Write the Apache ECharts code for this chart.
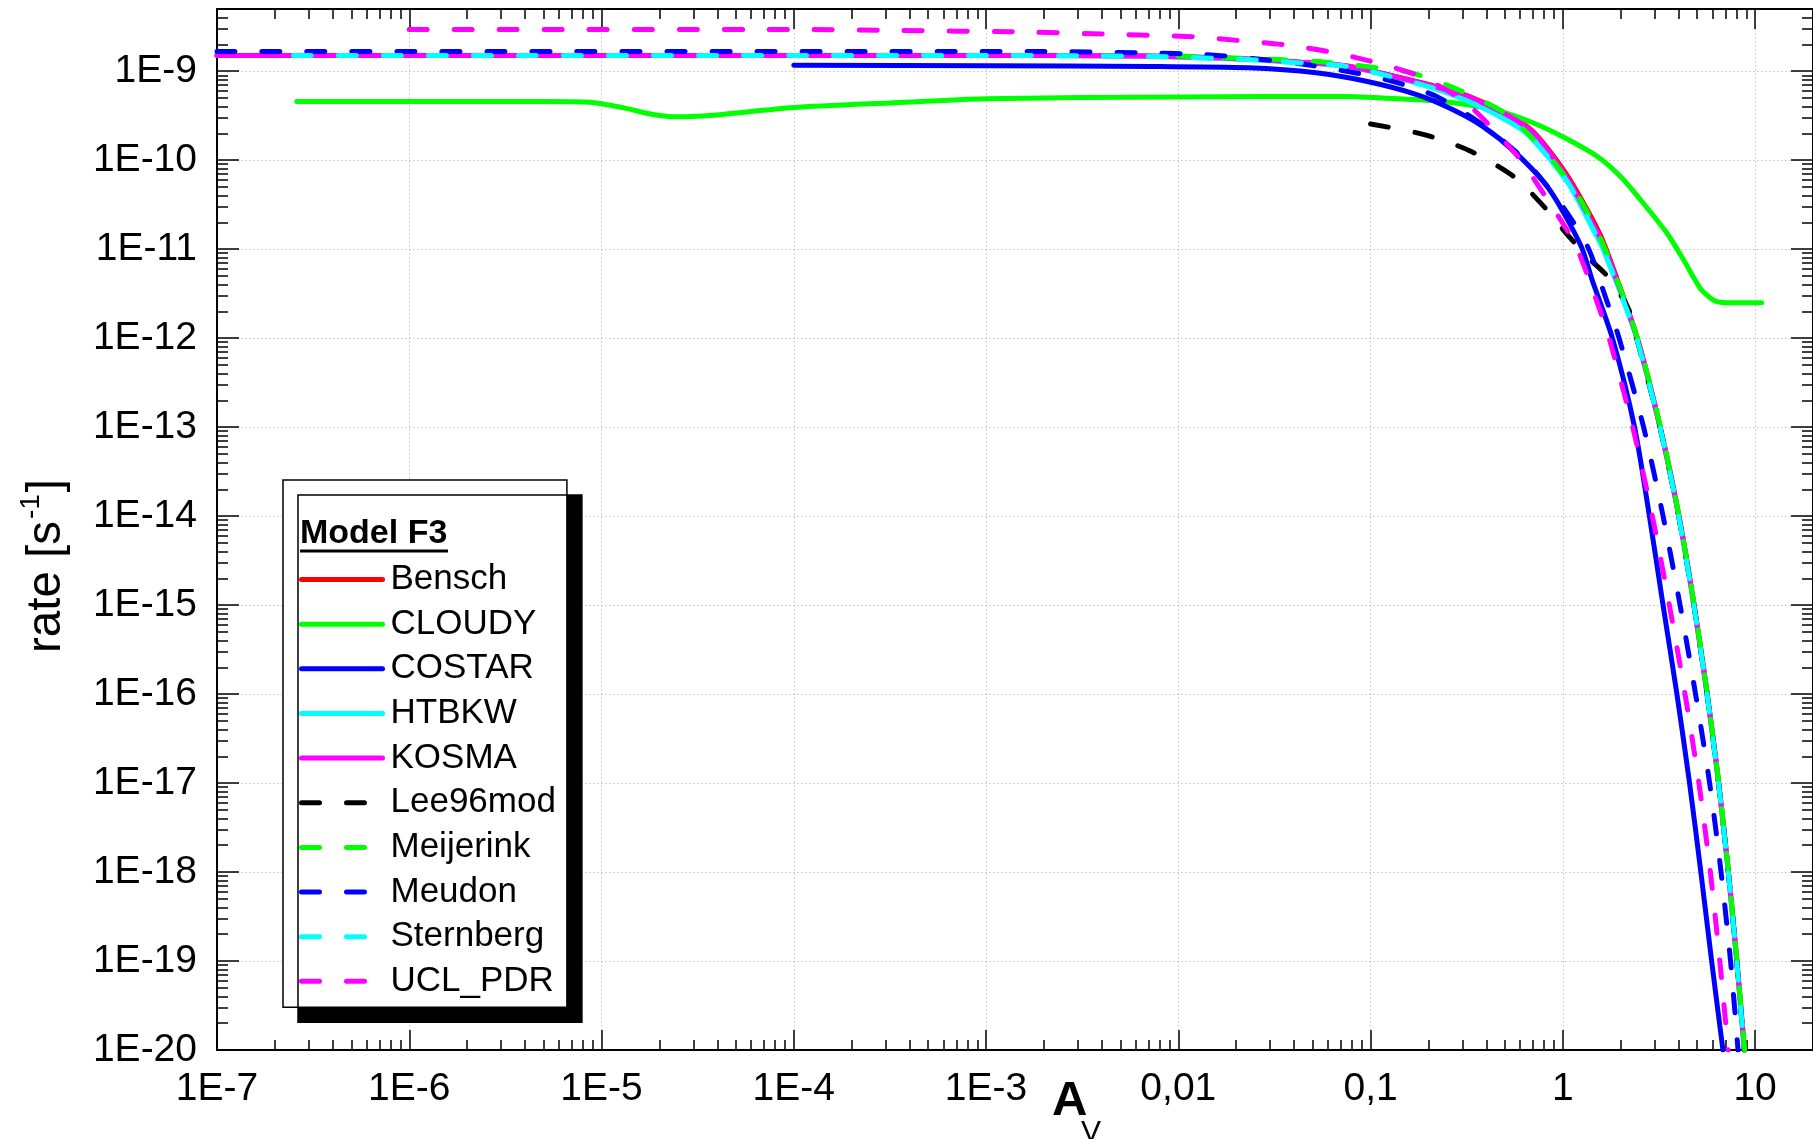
<!DOCTYPE html>
<html><head><meta charset="utf-8">
<script src="https://cdn.jsdelivr.net/npm/echarts@6/dist/echarts.min.js"></script>
<style>html,body{margin:0;padding:0;background:#fff}#c{width:1813px;height:1139px}</style>
</head><body><div id="c"></div>
<script>
const FONT = '"Liberation Sans", Arial, Helvetica, sans-serif';

// ---- tick labels ----
const xTickValues = [1e-7, 1e-6, 1e-5, 1e-4, 1e-3, 1e-2, 1e-1, 1, 10];
const xTickLabels = ['1E-7', '1E-6', '1E-5', '1E-4', '1E-3', '0,01', '0,1', '1', '10'];
const yTickValues = [1e-20, 1e-19, 1e-18, 1e-17, 1e-16, 1e-15, 1e-14, 1e-13, 1e-12, 1e-11, 1e-10, 1e-9];
const yTickLabels = ['1E-20', '1E-19', '1E-18', '1E-17', '1E-16', '1E-15', '1E-14', '1E-13', '1E-12', '1E-11', '1E-10', '1E-9'];

// ---- series (A_V, rate) ----
const seriesNames = ['Bensch', 'CLOUDY', 'COSTAR', 'HTBKW', 'KOSMA', 'Lee96mod', 'Meijerink', 'Meudon', 'Sternberg', 'UCL_PDR'];

const Bensch_av   = [1e-7, 1e-3, 0.007, 0.023, 0.043, 0.074, 0.125, 0.21, 0.327, 0.5, 0.7, 1.04, 1.49, 1.68, 2.44, 3.21, 4.02, 4.82, 5.64, 6.47, 7.27, 8.04, 8.8];
const Bensch_rate = [1.5e-9, 1.5e-9, 1.48e-9, 1.37e-9, 1.26e-9, 1.15e-9, 9.1e-10, 6.9e-10, 5.2e-10, 3.4e-10, 2.1e-10, 7.0e-11, 1.8e-11, 1e-11, 1e-12, 1e-13, 1e-14, 1e-15, 1e-16, 1e-17, 1e-18, 1e-19, 1e-20];

const CLOUDY_av   = [2.6e-7, 5e-6, 8.7e-6, 1.29e-5, 1.86e-5, 2.47e-5, 3.13e-5, 4e-5, 1e-4, 3.2e-4, 1e-3, 0.01, 0.074, 0.115, 0.21, 0.314, 0.468, 0.698, 1.04, 1.55, 2.0, 2.53, 3.49, 4.26, 5.2, 6.08, 7.16, 10.8];
const CLOUDY_rate = [4.56e-10, 4.56e-10, 4.48e-10, 3.9e-10, 3.26e-10, 3.07e-10, 3.12e-10, 3.22e-10, 3.9e-10, 4.4e-10, 4.89e-10, 5.14e-10, 5.2e-10, 5.0e-10, 4.68e-10, 4.22e-10, 3.55e-10, 2.63e-10, 1.75e-10, 1.06e-10, 6.5e-11, 3.6e-11, 1.5e-11, 7.5e-12, 3.6e-12, 2.67e-12, 2.5e-12, 2.5e-12];

const COSTAR_av   = [1e-4, 1e-3, 0.007, 0.023, 0.052, 0.095, 0.172, 0.257, 0.383, 0.571, 0.853, 1.24, 1.42, 1.81, 2.36, 2.82, 3.32, 3.92, 4.56, 5.22, 5.94, 6.8];
const COSTAR_rate = [1.17e-9, 1.15e-9, 1.13e-9, 1.09e-9, 9.6e-10, 7.7e-10, 5.5e-10, 3.86e-10, 2.4e-10, 1.2e-10, 4.65e-11, 1.1e-11, 4.5e-12, 1e-12, 1e-13, 1e-14, 1e-15, 1e-16, 1e-17, 1e-18, 1e-19, 1e-20];

const HTBKW_av    = [1e-7, 1e-3, 3e-3, 0.007, 0.023, 0.043, 0.074, 0.125, 0.21, 0.368, 0.644, 1.04, 1.25, 1.5, 1.62, 2.0, 2.42, 3.2, 4.0, 4.8, 5.62, 6.45, 7.25, 8.02, 8.77];
const HTBKW_rate  = [1.5e-9, 1.5e-9, 1.49e-9, 1.47e-9, 1.35e-9, 1.24e-9, 1.14e-9, 8.8e-10, 6.5e-10, 4.04e-10, 2.02e-10, 6.0e-11, 3.0e-11, 1.4e-11, 1e-11, 3.2e-12, 1e-12, 1e-13, 1e-14, 1e-15, 1e-16, 1e-17, 1e-18, 1e-19, 1e-20];

const KOSMA_av    = [1e-7, 1e-3, 0.007, 0.023, 0.043, 0.074, 0.125, 0.21, 0.327, 0.5, 0.7, 1.04, 1.5, 1.66, 2.43, 3.2, 4.01, 4.81, 5.63, 6.46, 7.26, 8.03, 8.79];
const KOSMA_rate  = [1.5e-9, 1.5e-9, 1.48e-9, 1.37e-9, 1.26e-9, 1.15e-9, 9.0e-10, 6.8e-10, 5.1e-10, 3.3e-10, 2.05e-10, 6.6e-11, 1.6e-11, 1e-11, 1e-12, 1e-13, 1e-14, 1e-15, 1e-16, 1e-17, 1e-18, 1e-19, 1e-20];

const Lee96mod_av   = [0.1, 0.19, 0.327, 0.56, 0.845, 1.01, 1.34, 1.70, 2.18, 2.42, 3.2, 4.0, 4.8, 5.62, 6.45, 7.25, 8.02, 8.77];
const Lee96mod_rate = [2.55e-10, 1.94e-10, 1.28e-10, 6.45e-11, 2.63e-11, 1.63e-11, 8.2e-12, 5.0e-12, 2.2e-12, 1e-12, 1e-13, 1e-14, 1e-15, 1e-16, 1e-17, 1e-18, 1e-19, 1e-20];

const Meijerink_av   = [0.01, 0.0195, 0.0334, 0.057, 0.098, 0.162, 0.29, 0.507, 0.835, 1.22, 1.66, 2.44, 3.22, 4.02, 4.82, 5.64, 6.47, 7.27, 8.04, 8.82];
const Meijerink_rate = [1.48e-9, 1.41e-9, 1.35e-9, 1.27e-9, 1.12e-9, 9.6e-10, 6.1e-10, 3.3e-10, 1.15e-10, 3.75e-11, 1e-11, 1e-12, 1e-13, 1e-14, 1e-15, 1e-16, 1e-17, 1e-18, 1e-19, 1e-20];

const Meudon_av   = [1e-7, 2e-3, 0.007, 0.0134, 0.025, 0.043, 0.075, 0.130, 0.219, 0.383, 0.644, 1.0, 1.35, 1.64, 1.96, 2.63, 3.32, 4.07, 4.9, 5.8, 6.65, 7.45, 8.15];
const Meudon_rate = [1.66e-9, 1.66e-9, 1.6e-9, 1.54e-9, 1.38e-9, 1.21e-9, 1.0e-9, 7.7e-10, 5.23e-10, 2.5e-10, 9.7e-11, 3.0e-11, 1.05e-11, 3.2e-12, 1e-12, 1e-13, 1e-14, 1e-15, 1e-16, 1e-17, 1e-18, 1e-19, 1e-20];

const Sternberg_av   = [2.5e-7, 1e-3, 3e-3, 0.007, 0.023, 0.043, 0.074, 0.125, 0.21, 0.368, 0.644, 1.04, 1.25, 1.5, 1.62, 2.0, 2.42, 3.2, 4.0, 4.8, 5.62, 6.45, 7.25, 8.02, 8.77];
const Sternberg_rate = [1.5e-9, 1.5e-9, 1.49e-9, 1.47e-9, 1.35e-9, 1.24e-9, 1.14e-9, 8.8e-10, 6.5e-10, 4.04e-10, 2.02e-10, 6.0e-11, 3.0e-11, 1.4e-11, 1e-11, 3.2e-12, 1e-12, 1e-13, 1e-14, 1e-15, 1e-16, 1e-17, 1e-18, 1e-19, 1e-20];

const UCL_PDR_av   = [1e-6, 1.1e-4, 3.6e-4, 1.38e-3, 4e-3, 0.012, 0.0207, 0.0358, 0.0614, 0.105, 0.179, 0.314, 0.583, 0.80, 1.15, 1.43, 1.74, 2.31, 2.92, 3.58, 4.32, 5.1, 5.85, 6.55, 7.24];
const UCL_PDR_rate = [2.94e-9, 2.94e-9, 2.86e-9, 2.77e-9, 2.62e-9, 2.44e-9, 2.21e-9, 1.98e-9, 1.65e-9, 1.26e-9, 8.8e-10, 4.4e-10, 1.1e-10, 4.1e-11, 1.17e-11, 3.5e-12, 1e-12, 1e-13, 1e-14, 1e-15, 1e-16, 1e-17, 1e-18, 1e-19, 1e-20];

const seriesAV   = [Bensch_av, CLOUDY_av, COSTAR_av, HTBKW_av, KOSMA_av, Lee96mod_av, Meijerink_av, Meudon_av, Sternberg_av, UCL_PDR_av];
const seriesRate = [Bensch_rate, CLOUDY_rate, COSTAR_rate, HTBKW_rate, KOSMA_rate, Lee96mod_rate, Meijerink_rate, Meudon_rate, Sternberg_rate, UCL_PDR_rate];
const seriesColors = ['#ff0000', '#00ff00', '#0000ff', '#00ffff', '#ff00ff', '#000000', '#00ff00', '#0000ff', '#00ffff', '#ff00ff'];
const seriesDashed = [false, false, false, false, false, true, true, true, true, true];

// ---- axis ranges ----
const X_MIN = 1e-7, X_MAX = 20;
const Y_MIN = 1e-20, Y_MAX = 5e-9;

function minorValues(lo, hi) {
  const out = [];
  for (let e = Math.floor(Math.log10(lo)); e <= Math.ceil(Math.log10(hi)); e++) {
    for (let k = 2; k <= 9; k++) {
      const v = k * Math.pow(10, e);
      if (v > lo && v <= hi * 1.0001) out.push(v);
    }
  }
  return out;
}
const xMinor = minorValues(X_MIN, X_MAX);
const yMinor = minorValues(Y_MIN, Y_MAX);

function lookup(vals, labels, v) {
  const lv = Math.log10(v);
  for (let i = 0; i < vals.length; i++) if (Math.abs(Math.log10(vals[i]) - lv) < 1e-6) return labels[i];
  return '';
}

const AX_COLOR = '#000';
const GRID_LINE = { color: '#c4c4c4', width: 1, type: [1.5, 2.5] };
function xAx(position, major, withLabels) {
  return {
    type: 'log', logBase: 10, min: X_MIN, max: X_MAX, position: position, gridIndex: 0,
    axisLine: { show: major, onZero: false, lineStyle: { color: AX_COLOR, width: 2 } },
    axisTick: { show: true, inside: true, length: major ? 20 : 10, customValues: major ? xTickValues : xMinor,
                lineStyle: { color: AX_COLOR, width: 1.5 } },
    axisLabel: withLabels ? { show: true, customValues: xTickValues, margin: 20, color: '#000', fontSize: 39, fontFamily: FONT,
                formatter: v => lookup(xTickValues, xTickLabels, v) } : { show: false },
    splitLine: { show: withLabels, lineStyle: GRID_LINE },
    minorTick: { show: false }, minorSplitLine: { show: false }
  };
}
function yAx(position, major, withLabels) {
  return {
    type: 'log', logBase: 10, min: Y_MIN, max: Y_MAX, position: position, gridIndex: 0,
    axisLine: { show: major, onZero: false, lineStyle: { color: AX_COLOR, width: 2 } },
    axisTick: { show: true, inside: true, length: major ? 22 : 11, customValues: major ? yTickValues : yMinor,
                lineStyle: { color: AX_COLOR, width: 1.5 } },
    axisLabel: withLabels ? { show: true, customValues: yTickValues, margin: 20, color: '#000', fontSize: 39, fontFamily: FONT,
                formatter: v => lookup(yTickValues, yTickLabels, v) } : { show: false },
    splitLine: { show: withLabels, lineStyle: GRID_LINE },
    minorTick: { show: false }, minorSplitLine: { show: false }
  };
}

const LINE_W = 5;
const series = seriesNames.map((name, i) => ({
  name: name, type: 'line', xAxisIndex: 0, yAxisIndex: 0,
  data: seriesAV[i].map((a, j) => [a, seriesRate[i][j]]),
  showSymbol: false, symbol: 'none', smooth: 0.25, clip: true,
  color: seriesColors[i],
  lineStyle: { color: seriesColors[i], width: LINE_W, cap: 'round', join: 'round',
               type: seriesDashed[i] ? [18, 27] : 'solid' },
  emphasis: { disabled: true }, z: 2 + i * 0.01
}));

const chart = echarts.init(document.getElementById('c'), null, { renderer: 'canvas' });
chart.setOption({
  animation: false,
  backgroundColor: '#fff',
  textStyle: { fontFamily: FONT },
  grid: { left: 217, right: 0, top: 9, bottom: 89, containLabel: false, outerBoundsMode: 'none' },
  xAxis: [xAx('bottom', true, true), xAx('bottom', false, false), xAx('top', true, false), xAx('top', false, false)],
  yAxis: [yAx('left', true, true), yAx('left', false, false), yAx('right', true, false), yAx('right', false, false)],
  legend: {
    orient: 'vertical', left: 283, top: 480,
    data: seriesNames,
    itemWidth: 81, itemHeight: 35, itemGap: 9.65,
    padding: [82, 11, 8.5, 16],
    backgroundColor: '#fff', borderColor: '#000', borderWidth: 1.5, borderRadius: 0,
    shadowColor: '#000', shadowOffsetX: 15, shadowOffsetY: 15, shadowBlur: 0,
    itemStyle: { opacity: 0, borderWidth: 0 },
    lineStyle: { width: LINE_W, cap: 'round' },
    textStyle: { fontSize: 35, color: '#000', fontFamily: FONT, lineHeight: 35, padding: [0, 0, 0, 3] },
    selectedMode: false, z: 10
  },
  graphic: [
    { type: 'text', z: 100, x: 300, y: 533.7,
      style: { text: 'Model F3', font: 'bold 34px ' + FONT, fill: '#000', align: 'left', verticalAlign: 'middle' } },
    { type: 'rect', z: 100, shape: { x: 300, y: 549.5, width: 148, height: 3 }, style: { fill: '#000' } },
    { type: 'text', z: 100, x: 1052, y: 1101,
      style: { text: 'A', font: 'bold 49px ' + FONT, fill: '#000', align: 'left', verticalAlign: 'middle' } },
    { type: 'text', z: 100, x: 1081, y: 1133,
      style: { text: 'V', font: '30px ' + FONT, fill: '#000', align: 'left', verticalAlign: 'middle' } },
    { type: 'text', z: 100, x: 44, y: 566, rotation: Math.PI / 2,
      style: { text: '{n|rate [s}{sup|-1}{n|]}', fill: '#000', align: 'center', verticalAlign: 'middle',
               rich: { n: { fontSize: 47.5, fontFamily: FONT, lineHeight: 53, verticalAlign: 'bottom' },
                       sup: { fontSize: 28, fontFamily: FONT, lineHeight: 53, verticalAlign: 'top', padding: [0, 2, 0, 2] } } } }
  ],
  series: series
});
</script></body></html>
